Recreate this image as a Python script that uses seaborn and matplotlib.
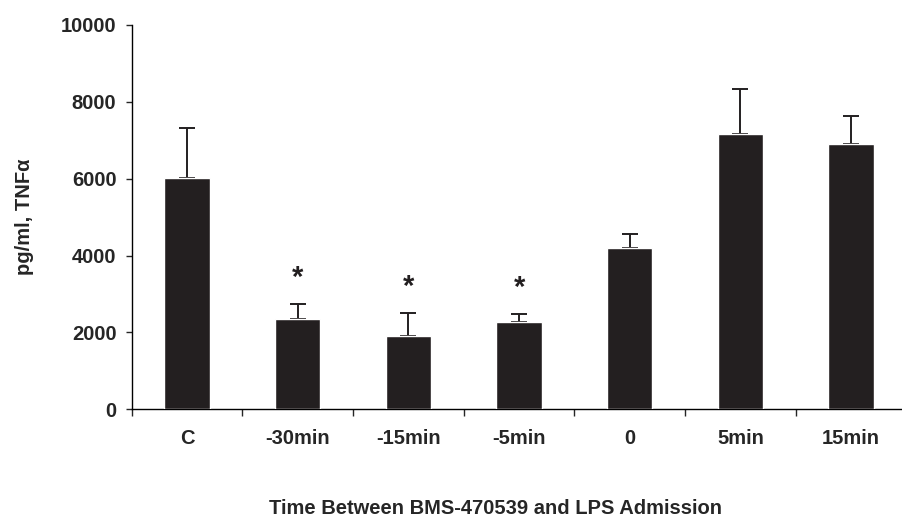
import numpy as np
import pandas as pd
import matplotlib
matplotlib.use("Agg")
import matplotlib.pyplot as plt
import seaborn as sns

# -------------------
# Data
groups = ["C", "-30min", "-15min", "-5min", "0", "5min", "15min"]
tnf_mean = [6020, 2350, 1915, 2280, 4205, 7165, 6905]
tnf_err = [1290, 390, 600, 190, 365, 1170, 730]
signif = ["", "*", "*", "*", "", "", ""]

df = pd.DataFrame({"group": groups, "tnf": tnf_mean, "err": tnf_err})

# -------------------
# Style
sns.set_style("ticks")
plt.rcParams["font.family"] = ["Liberation Sans", "DejaVu Sans"]
plt.rcParams["font.weight"] = "bold"

bar_color = "#231f20"
fs = 14.5

fig = plt.figure(figsize=(9.02, 5.16), dpi=100)
ax = fig.add_axes([0.146, 0.2068, 0.854, 0.7448])

sns.barplot(data=df, x="group", y="tnf", color=bar_color, width=0.41,
            saturation=1, errorbar=None, ax=ax, zorder=3)

# one-sided error bars
x = np.arange(len(groups))
ax.errorbar(x, df["tnf"], yerr=[np.zeros(len(x)), df["err"]], fmt="none",
            ecolor=bar_color, elinewidth=1.4, capsize=5.5, capthick=1.4, zorder=2)

# significance stars
for xi, m, e, s in zip(x, tnf_mean, tnf_err, signif):
    if s:
        ax.text(xi, m + e + 680, s, ha="center", va="center",
                fontsize=21, fontweight="bold", color=bar_color)

# -------------------
# Axes
ax.set_ylim(0, 10000)
ax.set_xlim(-0.5, 6.46)
ax.set_yticks(np.arange(0, 10001, 2000))
ax.set_xticks(x)
ax.set_xticklabels(groups)
ax.set_xticks(np.arange(-0.5, 6.0, 1.0), minor=True)
ax.tick_params(axis="x", which="major", length=0, pad=14, labelsize=fs)
ax.tick_params(axis="x", which="minor", length=5, width=1, direction="out")
ax.tick_params(axis="y", length=4, width=1, pad=7, labelsize=fs)
for lab in ax.get_xticklabels() + ax.get_yticklabels():
    lab.set_fontweight("bold")

sns.despine(ax=ax)
for sp in ["left", "bottom"]:
    ax.spines[sp].set_linewidth(1)
    ax.spines[sp].set_color("black")

ax.set_ylabel("pg/ml, TNFα", fontsize=fs, fontweight="bold", labelpad=19)
ax.set_xlabel("Time Between BMS-470539 and LPS Admission", fontsize=fs,
              fontweight="bold")
ax.xaxis.set_label_coords(0.472, -0.257)
ax.xaxis.label.set_va("center")

fig.savefig("out.png", dpi=100)
